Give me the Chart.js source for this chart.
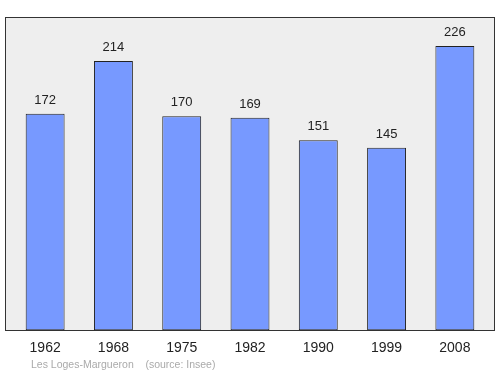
<!DOCTYPE html>
<html lang="fr">
<head>
<meta charset="UTF-8">
<title>Les Loges-Margueron</title>
<script src="https://cdn.jsdelivr.net/npm/chart.js"></script>
<style>
  html, body { margin: 0; padding: 0; background: #fff; }
  #wrap { width: 500px; height: 374px; }
</style>
</head>
<body>
<div id="wrap"><canvas id="c"></canvas></div>
<script>
// données
const years = ['1962', '1968', '1975', '1982', '1990', '1999', '2008'];
const population = [172, 214, 170, 169, 151, 145, 226];
const sourceText = 'Les Loges-Margueron    (source: Insee)';

const FONT = '"Liberation Sans", Arial, sans-serif';

// fond gris + cadre, un peu plus large que la zone des barres
const framePlugin = {
  id: 'frame',
  beforeDraw(chart) {
    const { ctx, chartArea: a } = chart;
    ctx.save();
    ctx.fillStyle = '#eeeeee';
    ctx.strokeStyle = '#333';
    ctx.lineWidth = 1;
    const x = Math.round(a.left - 6) + 0.5, y = Math.round(a.top) + 0.5;
    const w = Math.round(a.right + 5) - Math.round(a.left - 6), h = Math.round(a.bottom - a.top);
    ctx.fillRect(x, y, w, h);
    ctx.strokeRect(x, y, w, h);
    ctx.restore();
  }
};

// valeurs au-dessus des barres + texte source
const labelsPlugin = {
  id: 'labels',
  afterDatasetsDraw(chart) {
    const { ctx } = chart;
    const meta = chart.getDatasetMeta(0);
    ctx.save();
    ctx.font = '13px ' + FONT;
    ctx.fillStyle = '#222';
    ctx.textAlign = 'center';
    ctx.textBaseline = 'bottom';
    meta.data.forEach((bar, i) => {
      ctx.fillText(population[i], bar.x, bar.y - 7);
    });
    ctx.font = '10.5px ' + FONT;
    ctx.fillStyle = '#aaa';
    ctx.textAlign = 'left';
    ctx.textBaseline = 'middle';
    ctx.fillText(sourceText, 31, 365);
    ctx.restore();
  }
};

new Chart(document.getElementById('c'), {
  type: 'bar',
  data: {
    labels: years,
    datasets: [{
      data: population,
      backgroundColor: '#7799ff',
      borderColor: '#222',
      borderWidth: 1,
      borderSkipped: false,
      barPercentage: 0.57,
      categoryPercentage: 1
    }]
  },
  options: {
    responsive: true,
    maintainAspectRatio: false,
    animation: false,
    layout: { padding: { top: 17, left: 11, right: 11, bottom: 15 } },
    plugins: { legend: { display: false }, tooltip: { enabled: false } },
    scales: {
      x: {
        grid: { display: false },
        border: { display: false },
        ticks: { color: '#222', font: { size: 14, family: FONT }, padding: 2, maxRotation: 0 }
      },
      y: { display: false, min: 0, max: 249 }
    }
  },
  plugins: [framePlugin, labelsPlugin]
});
</script>
</body>
</html>
